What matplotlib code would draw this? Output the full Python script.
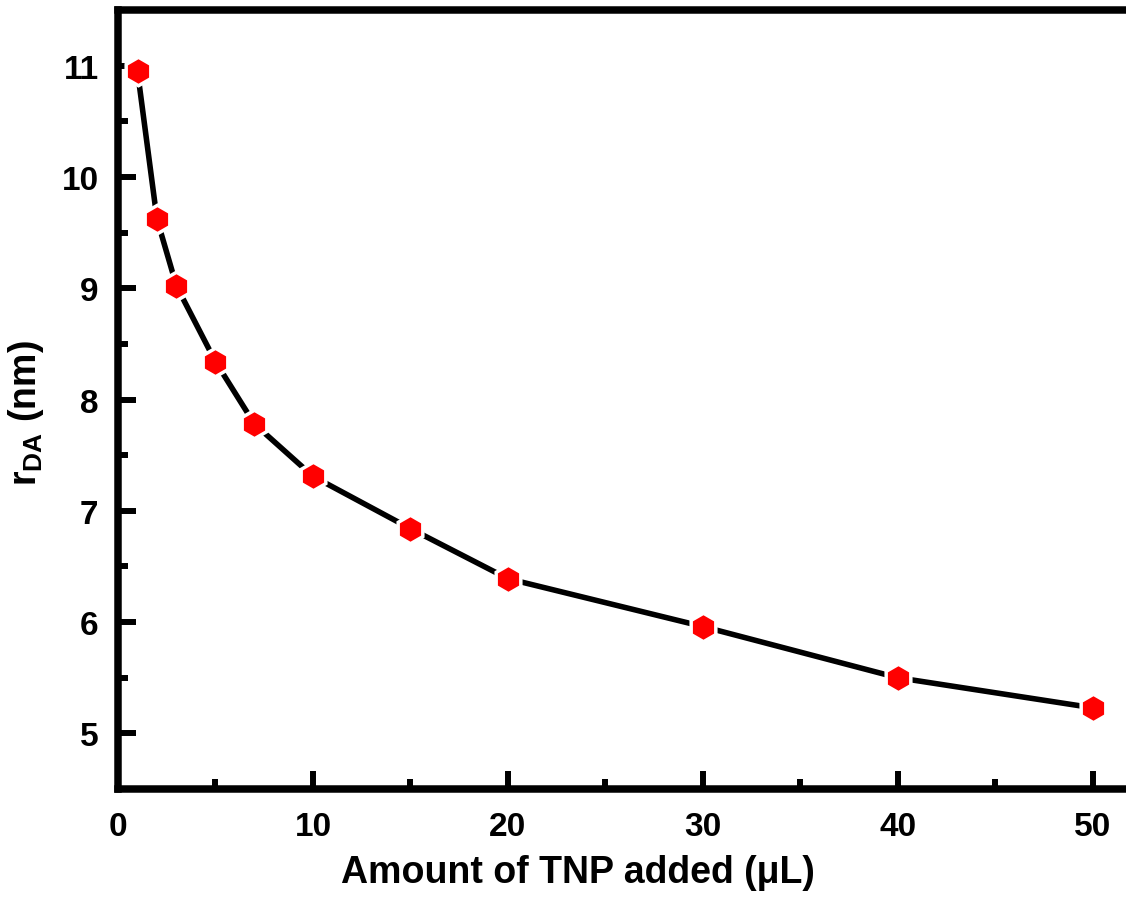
import matplotlib
matplotlib.use("Agg")
import matplotlib.pyplot as plt
from matplotlib.ticker import MultipleLocator

# TNP added (uL) vs donor-acceptor distance r_DA (nm)
tnp_volume = [1, 2, 3, 5, 7, 10, 15, 20, 30, 40, 50]
r_da = [10.95, 9.62, 9.02, 8.34, 7.78, 7.31, 6.84, 6.39, 5.96, 5.50, 5.23]

x_label = "Amount of TNP added (\u03bcL)"
y_label = r"r$_{\mathbf{DA}}$ (nm)"

plt.rcParams["font.family"] = ["Liberation Sans", "DejaVu Sans"]
plt.rcParams["font.weight"] = "bold"
plt.rcParams["mathtext.fontset"] = "custom"
plt.rcParams["mathtext.bf"] = "Liberation Sans:bold"
plt.rcParams["mathtext.rm"] = "Liberation Sans:bold"
plt.rcParams["mathtext.default"] = "bf"

fig = plt.figure(figsize=(11.26, 9.03), dpi=100)
ax = fig.add_axes([0.1048, 0.1251, 0.8952, 0.8627])

ax.plot(tnp_volume, r_da, color="black", lw=4, zorder=2)
ax.plot(tnp_volume, r_da, ls="none", marker="h", ms=20.5, mfc="red",
        mec="white", mew=2.5, zorder=3)

ax.set_xlim(0, 51.7)
ax.set_ylim(4.5, 11.5)
ax.xaxis.set_major_locator(MultipleLocator(10))
ax.xaxis.set_minor_locator(MultipleLocator(5))
ax.yaxis.set_major_locator(MultipleLocator(1))
ax.yaxis.set_minor_locator(MultipleLocator(0.5))

for side in ["left", "bottom", "top"]:
    ax.spines[side].set_linewidth(5.4)
ax.spines["right"].set_visible(False)

ax.tick_params(which="major", direction="in", length=13, width=4.3,
               labelsize=24)
ax.tick_params(axis="x", which="major", pad=16)
ax.tick_params(axis="y", which="major", pad=14)
ax.tick_params(which="minor", direction="in", length=7, width=4.3)
ax.tick_params(top=False, right=False, which="both")
for lab in ax.get_xticklabels() + ax.get_yticklabels():
    lab.set_fontweight("bold")

ax.set_xlabel(x_label, fontsize=27, fontweight="bold")
ax.set_ylabel(y_label, fontsize=27, fontweight="bold")
ax.xaxis.set_label_coords(0.456, -0.083)
ax.yaxis.set_label_coords(-0.071, 0.484)

fig.savefig("out.png", dpi=100)
